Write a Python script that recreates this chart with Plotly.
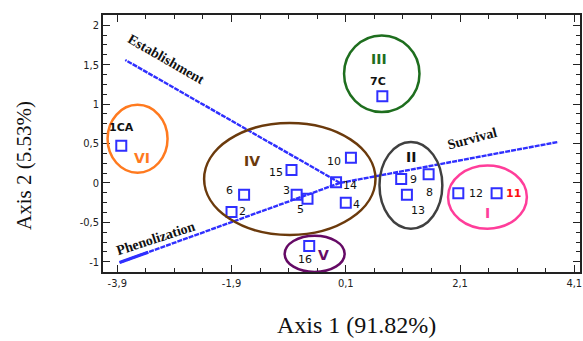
import plotly.graph_objects as go

# ---- data ----
point_names = ["1CA", "2", "3", "4", "5", "6", "7C", "8", "9", "10", "11", "12", "13", "14", "15", "16"]
point_x = [-3.83, -1.90, -0.76, 0.10, -0.57, -1.68, 0.74, 1.55, 1.07, 0.19, 2.74, 2.07, 1.17, -0.07, -0.85, -0.54]
point_y = [0.47, -0.37, -0.15, -0.25, -0.20, -0.15, 1.10, 0.11, 0.05, 0.32, -0.13, -0.13, -0.15, 0.01, 0.165, -0.80]

vector_names = ["Establishment", "Phenolization", "Survival"]
vector_x = [-3.76, -3.86, 3.82]
vector_y = [1.56, -1.01, 0.52]

cluster_names = ["I", "II", "III", "IV", "V", "VI"]
cluster_x0 = [1.89, 0.69, 0.07, -2.38, -0.97, -4.07]
cluster_x1 = [3.27, 1.79, 1.39, 0.62, 0.08, -3.02]
cluster_y0 = [-0.58, -0.58, 0.90, -0.66, -1.13, 0.13]
cluster_y1 = [0.22, 0.52, 1.87, 0.76, -0.67, 0.99]
cluster_label_x = [2.58, 1.24, 0.69, -1.55, -0.29, -3.47]
cluster_label_y = [-0.38, 0.33, 1.57, 0.28, -0.91, 0.32]

x_tickvals = [-3.9, -1.9, 0.1, 2.1, 4.1]
x_ticktext = ["-3,9", "-1,9", "0,1", "2,1", "4,1"]
y_tickvals = [-1, -0.5, 0, 0.5, 1, 1.5, 2]
y_ticktext = ["-1", "-0,5", "0", "0,5", "1", "1,5", "2"]

# ---- styles ----
BLUE = "#2f2fff"
cluster_colors = ["#ff3d9a", "#404040", "#1e6e1e", "#6b3a0c", "#650a65", "#ff7a1f"]
cluster_label_colors = ["#ff3d9a", "#111111", "#1e6e1e", "#6b3a0c", "#650a65", "#ff7a1f"]
label_shift = {
    "1CA": (0, 18), "2": (11, 1), "3": (-10, 4), "4": (11, -2), "5": (-7, -11),
    "6": (-15, 4), "7C": (-4, 15), "8": (1, -18), "9": (12, -1), "10": (-17, -4),
    "11": (17, 0), "12": (18, 0), "13": (11, -16), "14": (14, -3), "15": (-16, -3),
    "16": (-4, -14),
}
vector_label_style = {
    "Establishment": dict(ax=-3.04, ay=1.56, angle=30),
    "Phenolization": dict(ax=-3.23, ay=-0.71, angle=-18),
    "Survival": dict(ax=2.32, ay=0.56, angle=-15),
}

fig = go.Figure()

# vectors
for name, vx, vy in zip(vector_names, vector_x, vector_y):
    fig.add_trace(go.Scatter(
        x=[0, vx], y=[0, vy], mode="lines",
        line=dict(color=BLUE, width=2.4, dash="5px,1px"),
        hoverinfo="skip", showlegend=False))
# heavier tip on the Phenolization vector (as drawn in the original)
i_ph = vector_names.index("Phenolization")
fig.add_trace(go.Scatter(
    x=[vector_x[i_ph], vector_x[i_ph] * 0.87], y=[vector_y[i_ph], vector_y[i_ph] * 0.87],
    mode="lines", line=dict(color=BLUE, width=3.2), hoverinfo="skip", showlegend=False))

# ellipses
shapes = []
for c, x0, x1, y0, y1 in zip(cluster_colors, cluster_x0, cluster_x1, cluster_y0, cluster_y1):
    shapes.append(dict(type="circle", xref="x", yref="y", x0=x0, x1=x1, y0=y0, y1=y1,
                       line=dict(color=c, width=2.5), layer="above"))

# points
fig.add_trace(go.Scatter(
    x=point_x, y=point_y, mode="markers",
    marker=dict(symbol="square-open", size=10, color=BLUE, line=dict(color=BLUE, width=2)),
    hoverinfo="skip", showlegend=False))

annotations = []
for n, px, py in zip(point_names, point_x, point_y):
    xs, ys = label_shift[n]
    bold = n in ("1CA", "7C", "11")
    color = "#ff1010" if n == "11" else "#111111"
    txt = f"<b>{n}</b>" if bold else n
    annotations.append(dict(x=px, y=py, xref="x", yref="y", text=txt, showarrow=False,
                            xshift=xs, yshift=ys,
                            font=dict(family="DejaVu Sans", size=11, color=color)))

for n, lx, ly, col in zip(cluster_names, cluster_label_x, cluster_label_y, cluster_label_colors):
    annotations.append(dict(x=lx, y=ly, xref="x", yref="y", text=f"<b>{n}</b>", showarrow=False,
                            font=dict(family="DejaVu Sans", size=14, color=col)))

for n in vector_names:
    s = vector_label_style[n]
    annotations.append(dict(x=s["ax"], y=s["ay"], xref="x", yref="y", text=f"<b>{n}</b>",
                            showarrow=False, textangle=s["angle"],
                            font=dict(family="Liberation Serif", size=14, color="#111111")))

# axis titles
annotations.append(dict(x=0.532, y=-0.205, xref="paper", yref="paper", text="Axis 1 (91.82%)",
                        xanchor="center", yanchor="middle",
                        showarrow=False, font=dict(family="Liberation Serif", size=24, color="#111111")))
annotations.append(dict(x=-0.166, y=0.416, xref="paper", yref="paper", text="Axis 2 (5.53%)",
                        xanchor="center", yanchor="middle",
                        showarrow=False, textangle=-90,
                        font=dict(family="Liberation Serif", size=21, color="#111111")))

axis_common = dict(showgrid=False, zeroline=False, showline=True, linecolor="#222222", linewidth=1.5,
                   mirror="ticks", ticks="inside", ticklen=7, tickwidth=1, tickcolor="#222222",
                   automargin=False, ticklabeloverflow="allow",
                   tickfont=dict(family="DejaVu Sans Condensed, Liberation Sans Narrow, Liberation Sans",
                                 size=11, color="#222222"))

fig.update_layout(
    width=583, height=341,
    margin=dict(l=103, r=3, t=15, b=69, autoexpand=False),
    paper_bgcolor="white", plot_bgcolor="white",
    shapes=shapes, annotations=annotations,
    xaxis=dict(range=[-4.15, 4.2], tickvals=x_tickvals, ticktext=x_ticktext,
               minor=dict(dtick=0.5, tick0=-3.9, ticks="inside", ticklen=4, tickcolor="#222222"),
               **axis_common),
    yaxis=dict(range=[-1.13, 2.13], tickvals=y_tickvals, ticktext=y_ticktext,
               minor=dict(dtick=0.125, tick0=0, ticks="inside", ticklen=4, tickcolor="#222222"),
               **axis_common),
)

fig.write_html("out.html", config={"displayModeBar": False},
               post_script="document.body.style.margin='0';")
